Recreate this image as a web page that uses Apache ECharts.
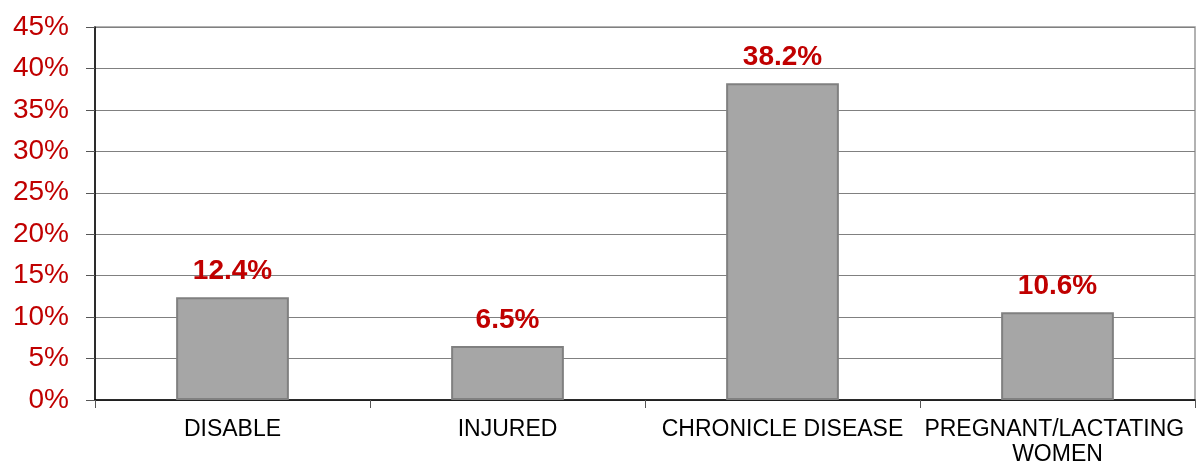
<!DOCTYPE html>
<html>
<head>
<meta charset="utf-8">
<script src="https://cdn.jsdelivr.net/npm/echarts@6/dist/echarts.min.js"></script>
<style>
  html, body { margin: 0; padding: 0; background: #fff; }
  #chart { width: 1200px; height: 464px; }
</style>
</head>
<body>
<div id="chart"></div>
<script>
const categories = ['DISABLE', 'INJURED', 'CHRONICLE DISEASE', 'PREGNANT/LACTATING WOMEN']
const values = [12.4, 6.5, 38.2, 10.6]

const chart = echarts.init(document.getElementById('chart'))
chart.setOption({
  animation: false,
  textStyle: { fontFamily: 'Liberation Sans, Arial, sans-serif' },
  grid: {
    left: 95,
    right: 5,
    top: 27,
    bottom: 64,
    outerBoundsMode: 'none',
    show: true,
    borderColor: '#999',
    borderWidth: 1.5,
  },
  xAxis: {
    type: 'category',
    data: categories,
    axisLine: { lineStyle: { color: '#000', width: 1.5 } },
    axisTick: { show: true, length: 8, lineStyle: { color: '#555' } },
    axisLabel: {
      color: '#000',
      fontSize: 23,
      margin: 17,
      interval: 0,
      width: 272,
      overflow: 'break',
      lineHeight: 25,
    },
  },
  yAxis: {
    type: 'value',
    min: 0,
    max: 45,
    interval: 5,
    axisLine: { show: true, lineStyle: { color: '#000', width: 1.5 } },
    axisTick: { show: true, length: 9, lineStyle: { color: '#555' } },
    axisLabel: {
      color: '#c00000',
      fontSize: 28,
      margin: 26,
      formatter: '{value}%',
    },
    splitLine: { lineStyle: { color: '#808080', width: 1 } },
  },
  series: [
    {
      type: 'bar',
      data: values,
      barWidth: '41%',
      itemStyle: {
        color: '#a6a6a6',
        borderColor: '#808080',
        borderWidth: 2,
      },
      label: {
        show: true,
        position: 'top',
        distance: 12,
        color: '#c00000',
        fontSize: 28,
        fontWeight: 'bold',
        formatter: (p) => p.value.toFixed(1) + '%',
      },
    },
  ],
})
</script>
</body>
</html>
